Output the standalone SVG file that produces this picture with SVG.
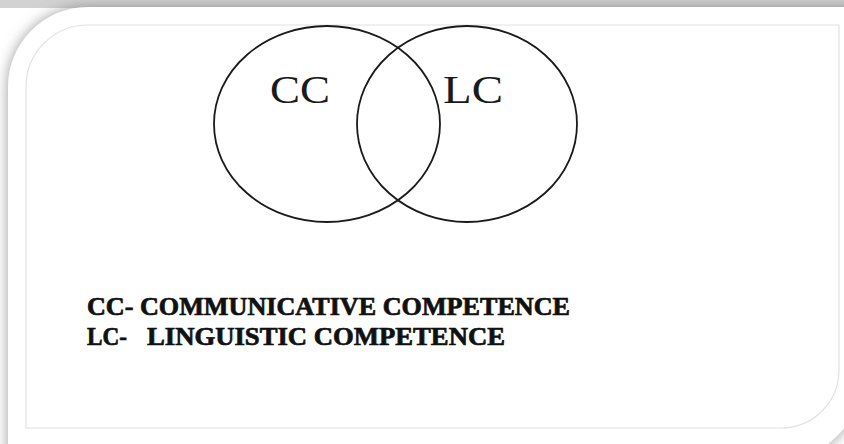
<svg xmlns="http://www.w3.org/2000/svg" width="844" height="444" viewBox="0 0 844 444">
<defs>
<filter id="sh" x="-10%" y="-10%" width="120%" height="120%">
<feDropShadow dx="0" dy="0" stdDeviation="7" flood-color="#7a7a7a" flood-opacity="0.75"/>
</filter>
<style>
.ring{fill:none;stroke:#1a1a1a;stroke-width:1.8}
.lbl{font-family:"Liberation Serif","Times New Roman",serif;font-size:39px;fill:#1a1a1a}
.leg{font-family:"Liberation Serif","Times New Roman",serif;font-weight:bold;font-size:25px;fill:#111;stroke:#111;stroke-width:0.7}
</style>
</defs>
<rect width="844" height="444" fill="#ffffff"/>
<rect x="0" y="0" width="844" height="8" fill="#d2d2d2"/>
<path d="M8,460 L8,87 A80,80 0 0 1 88,7 L860,7 L860,380 A80,80 0 0 1 780,460 Z" fill="#ffffff" filter="url(#sh)"/>
<path d="M26,428 L26,87 A62,62 0 0 1 88,25 L839,25 L839,370 A58,58 0 0 1 781,428 L26,428" fill="none" stroke="#e2e2e2" stroke-width="1.2"/>
<g id="cc">
<ellipse class="ring" cx="327" cy="124" rx="113" ry="98"/>
<text class="lbl" x="270" y="103" textLength="60" lengthAdjust="spacingAndGlyphs">CC</text>
</g>
<g id="lc">
<ellipse class="ring" cx="467" cy="124" rx="110" ry="98"/>
<text class="lbl" x="443" y="103" textLength="60" lengthAdjust="spacingAndGlyphs">LC</text>
</g>
<g id="connectors"/>
<g id="legend">
<text class="leg" x="87" y="315" textLength="483" lengthAdjust="spacingAndGlyphs">CC- COMMUNICATIVE COMPETENCE</text>
<text class="leg" x="87" y="345" textLength="40" lengthAdjust="spacingAndGlyphs">LC-</text>
<text class="leg" x="147" y="345" textLength="358" lengthAdjust="spacingAndGlyphs">LINGUISTIC COMPETENCE</text>
</g>
</svg>
